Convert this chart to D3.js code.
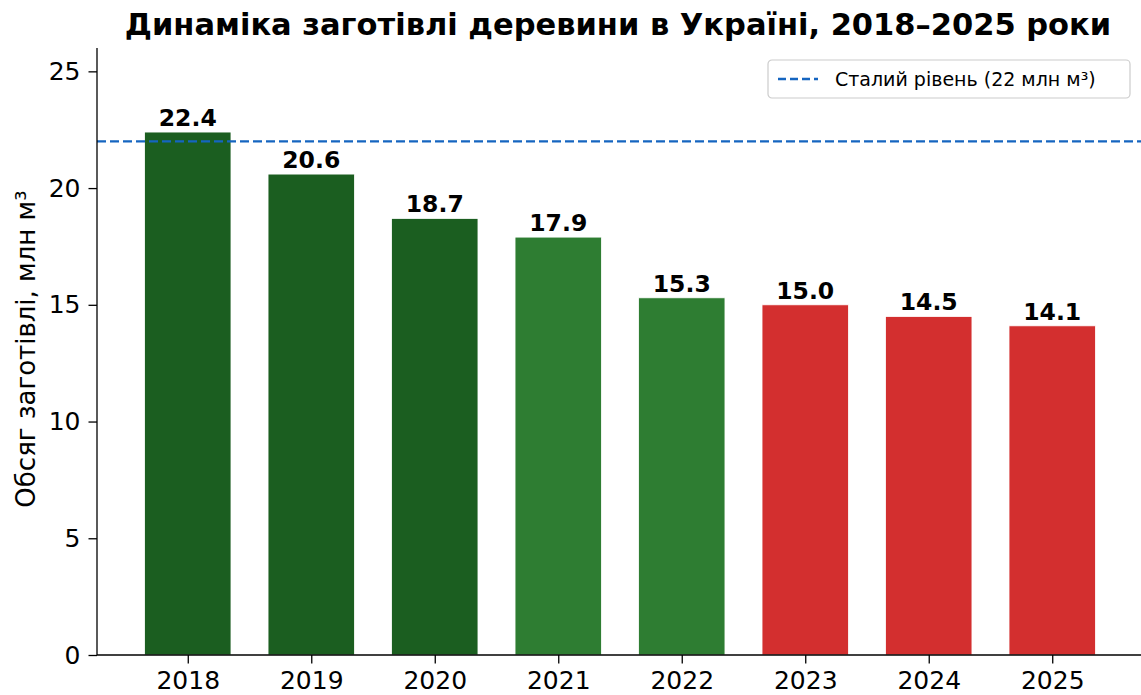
<!DOCTYPE html>
<html><head><meta charset="utf-8">
<script src="https://cdn.jsdelivr.net/npm/d3@7"></script>
<style>body{margin:0;background:#fff}svg{display:block;font-family:"DejaVu Sans",sans-serif}</style>
</head><body><svg id="c" width="1141" height="695"></svg>
<script>
const years = ["2018","2019","2020","2021","2022","2023","2024","2025"];
const values = [22.4, 20.6, 18.7, 17.9, 15.3, 15.0, 14.5, 14.1];
const groups = ["dark","dark","dark","mid","mid","red","red","red"];
const yTicks = [0,5,10,15,20,25];
const sustainable = 22;
const title = "Динаміка заготівлі деревини в Україні, 2018–2025 роки";
const yLabel = "Обсяг заготівлі, млн м³";
const legendLabel = "Сталий рівень (22 млн м³)";
const colors = {dark:"#1b5e20", mid:"#2e7d32", red:"#d32f2f"};

const svg = d3.select("#c");
const L=97, R=1143, T=48, B=655;
const x = d3.scaleLinear().domain([-0.735, 7.735]).range([L, R]);
const y = d3.scaleLinear().domain([0, 26]).range([B, T]);
const bw = x(0.7) - x(0);

svg.selectAll("rect.bar").data(values).join("rect").attr("class","bar")
  .attr("x",(d,i)=>x(i)-bw/2).attr("width",bw)
  .attr("y",d=>y(d)).attr("height",d=>B-y(d))
  .attr("fill",(d,i)=>colors[groups[i]])
  .attr("stroke","#fff").attr("stroke-width",0.8);

svg.selectAll("text.val").data(values).join("text").attr("class","val")
  .attr("x",(d,i)=>x(i)).attr("y",d=>y(d)-6)
  .attr("text-anchor","middle").attr("font-weight","bold").attr("font-size",23.5)
  .text(d=>d.toFixed(1));

svg.append("line").attr("x1",L).attr("x2",R).attr("y1",y(sustainable)).attr("y2",y(sustainable))
  .attr("stroke","#1565c0").attr("stroke-width",2.4).attr("stroke-dasharray","9,4");

const yAxis = svg.append("g").attr("transform",`translate(${L},0)`)
  .call(d3.axisLeft(y).tickValues(yTicks).tickSize(8.5).tickPadding(8).tickFormat(d3.format("d")));
const xAxis = svg.append("g").attr("transform",`translate(0,${B})`)
  .call(d3.axisBottom(x).tickValues(d3.range(years.length)).tickSize(8.5).tickPadding(8).tickFormat(i=>years[i]));
[yAxis,xAxis].forEach(g=>{
  g.selectAll("text").attr("font-size",25).attr("fill","#000").attr("font-family","DejaVu Sans");
  g.selectAll("line").attr("stroke","#000").attr("stroke-width",1.3);
  g.select(".domain").attr("stroke","#000").attr("stroke-width",1.3);
});
yAxis.select(".domain").attr("d",`M0,${B}V${T}`);
xAxis.select(".domain").attr("d",`M${L},0H${R}`);

svg.append("text").attr("x",(L+R)/2-2).attr("y",34.5).attr("text-anchor","middle")
  .attr("font-weight","bold").attr("font-size",30.5).text(title);

svg.append("text").attr("transform",`translate(35,349) rotate(-90)`)
  .attr("text-anchor","middle").attr("font-size",26).text(yLabel);

const lg = svg.append("g").attr("transform","translate(768,60)");
lg.append("rect").attr("width",362).attr("height",38).attr("rx",4)
  .attr("fill","#fff").attr("fill-opacity",0.8).attr("stroke","#ccc").attr("stroke-width",1.2);
lg.append("line").attr("x1",10).attr("x2",50).attr("y1",19).attr("y2",19)
  .attr("stroke","#1565c0").attr("stroke-width",2.4).attr("stroke-dasharray","8,4");
lg.append("text").attr("x",67).attr("y",26).attr("font-size",19).text(legendLabel);
</script></body></html>
